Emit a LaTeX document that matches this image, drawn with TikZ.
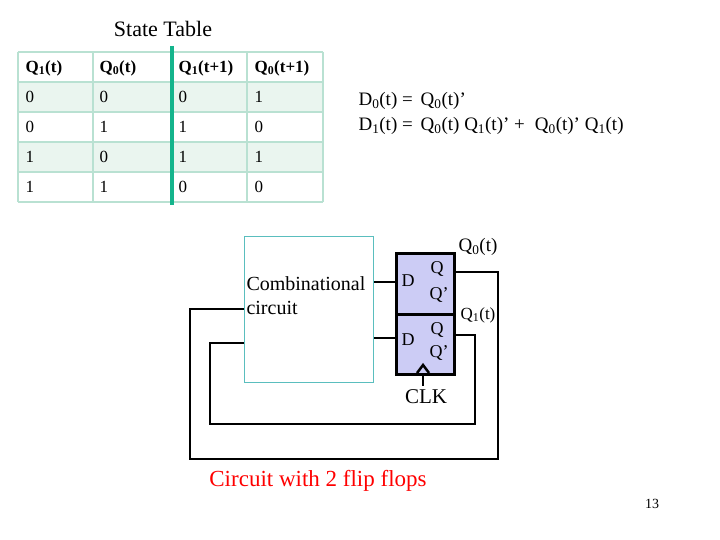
\documentclass[tikz,border=0pt]{standalone}
\usepackage{fontspec}
\setmainfont{Liberation Serif}
\begin{document}
\begin{tikzpicture}[x=1pt,y=-1pt,
  wire/.style={line width=2.5pt},
  t/.style={anchor=west,font=\fontsize{17}{18}\selectfont},
  ff/.style={draw,line width=2.5pt,fill=ffc}]
\definecolor{tb}{RGB}{185,225,210}
\definecolor{tf}{RGB}{234,245,239}
\definecolor{tg}{RGB}{20,180,140}
\definecolor{ffc}{RGB}{204,204,245}
\definecolor{cb}{RGB}{90,190,190}
\useasboundingbox (0,0) rectangle (720,540);
\node (title) at (163,29) {\fontsize{22}{24}\selectfont State Table};
% table
\fill[tf] (18,82) rectangle (323,112);
\fill[tf] (18,142) rectangle (323,172);
\foreach \y in {52,82,112,142,172,202} \draw[tb,line width=1.2pt] (18,\y) -- (323,\y);
\foreach \x in {18,93,247,323} \draw[tb,line width=1.2pt] (\x,52) -- (\x,202);
\draw[tg,line width=3.5pt] (172,46) -- (172,205);
\node[t] (h1) at (22,68) {\textbf{Q\textsubscript{1}(t)}};
\node[t] (h2) at (96,68) {\textbf{Q\textsubscript{0}(t)}};
\node[t] (h3) at (175,68) {\textbf{Q\textsubscript{1}(t+1)}};
\node[t] (h4) at (251,68) {\textbf{Q\textsubscript{0}(t+1)}};
\foreach \a/\b/\c/\d [count=\i] in {0/0/0/1,0/1/1/0,1/0/1/1,1/1/0/0}{
  \node[t] (r\i a) at (22,67+30*\i) {\a};
  \node[t] (r\i b) at (96,67+30*\i) {\b};
  \node[t] (r\i c) at (175,67+30*\i) {\c};
  \node[t] (r\i d) at (251,67+30*\i) {\d};
}
\node[anchor=west,font=\fontsize{19}{20}\selectfont] (e1) at (355,101) {D\textsubscript{0}(t) = \,Q\textsubscript{0}(t)’};
\node[anchor=west,font=\fontsize{19}{20}\selectfont] (e2) at (355,126) {D\textsubscript{1}(t) = \,Q\textsubscript{0}(t) Q\textsubscript{1}(t)’ + \;Q\textsubscript{0}(t)’ Q\textsubscript{1}(t)};
% circuit
\node[draw=cb,line width=1pt,minimum width=129pt,minimum height=146pt,anchor=north west] (comb) at (244,236) {};
\node[anchor=west,align=left,font=\fontsize{20}{24}\selectfont] (ct) at (243,296) {Combinational\\circuit};
\node[ff,minimum width=58pt,minimum height=61pt,anchor=north west] (f0) at (395,252) {};
\node[ff,minimum width=58pt,minimum height=60pt,anchor=north west] (f1) at (395,313) {};
\tikzset{fl/.style={font=\fontsize{18}{18}\selectfont,inner sep=0pt}}
\node[fl] (d0) at (408,281) {D};
\node[fl] (q0) at (437,269) {Q};
\node[fl] (qb0) at (439,295) {Q’};
\node[fl] (d1) at (408,340) {D};
\node[fl] (q1) at (437,330) {Q};
\node[fl] (qb1) at (439,353) {Q’};
\node[font=\fontsize{19}{20}\selectfont,inner sep=0pt] (q0l) at (478,247) {Q\textsubscript{0}(t)};
\node[font=\fontsize{17}{18}\selectfont,inner sep=0pt] (q1l) at (478,315) {Q\textsubscript{1}(t)};
\node[font=\fontsize{21}{22}\selectfont,inner sep=0pt] (clk) at (426,397) {CLK};
\coordinate (a) at (498,272); \coordinate (b) at (498,459);
\coordinate (c) at (190,459); \coordinate (d) at (190,309);
\draw[wire] (f0.east |- 0,272) -- (a) -- (b) -- (c) -- (d) -- (comb.west |- d);
\coordinate (e) at (475,335); \coordinate (f) at (475,424);
\coordinate (g) at (210,424); \coordinate (h) at (210,343);
\draw[wire] (f1.east |- 0,335) -- (e) -- (f) -- (g) -- (h) -- (comb.west |- h);
\draw[wire] (comb.east |- 0,282) -- (f0.west |- 0,282);
\draw[wire] (comb.east |- 0,338) -- (f1.west |- 0,338);
\draw[wire,line join=miter] (417,373) -- (423,365) -- (429,373);
\coordinate (ck) at (423,386);
\draw[wire] (423,373) -- (ck);
\node[text=red,font=\fontsize{23}{26}\selectfont] (cap) at (318,481) {Circuit with 2 flip flops};
\node[font=\fontsize{14}{15}\selectfont] (pg) at (652,504) {13};
\end{tikzpicture}
\end{document}
